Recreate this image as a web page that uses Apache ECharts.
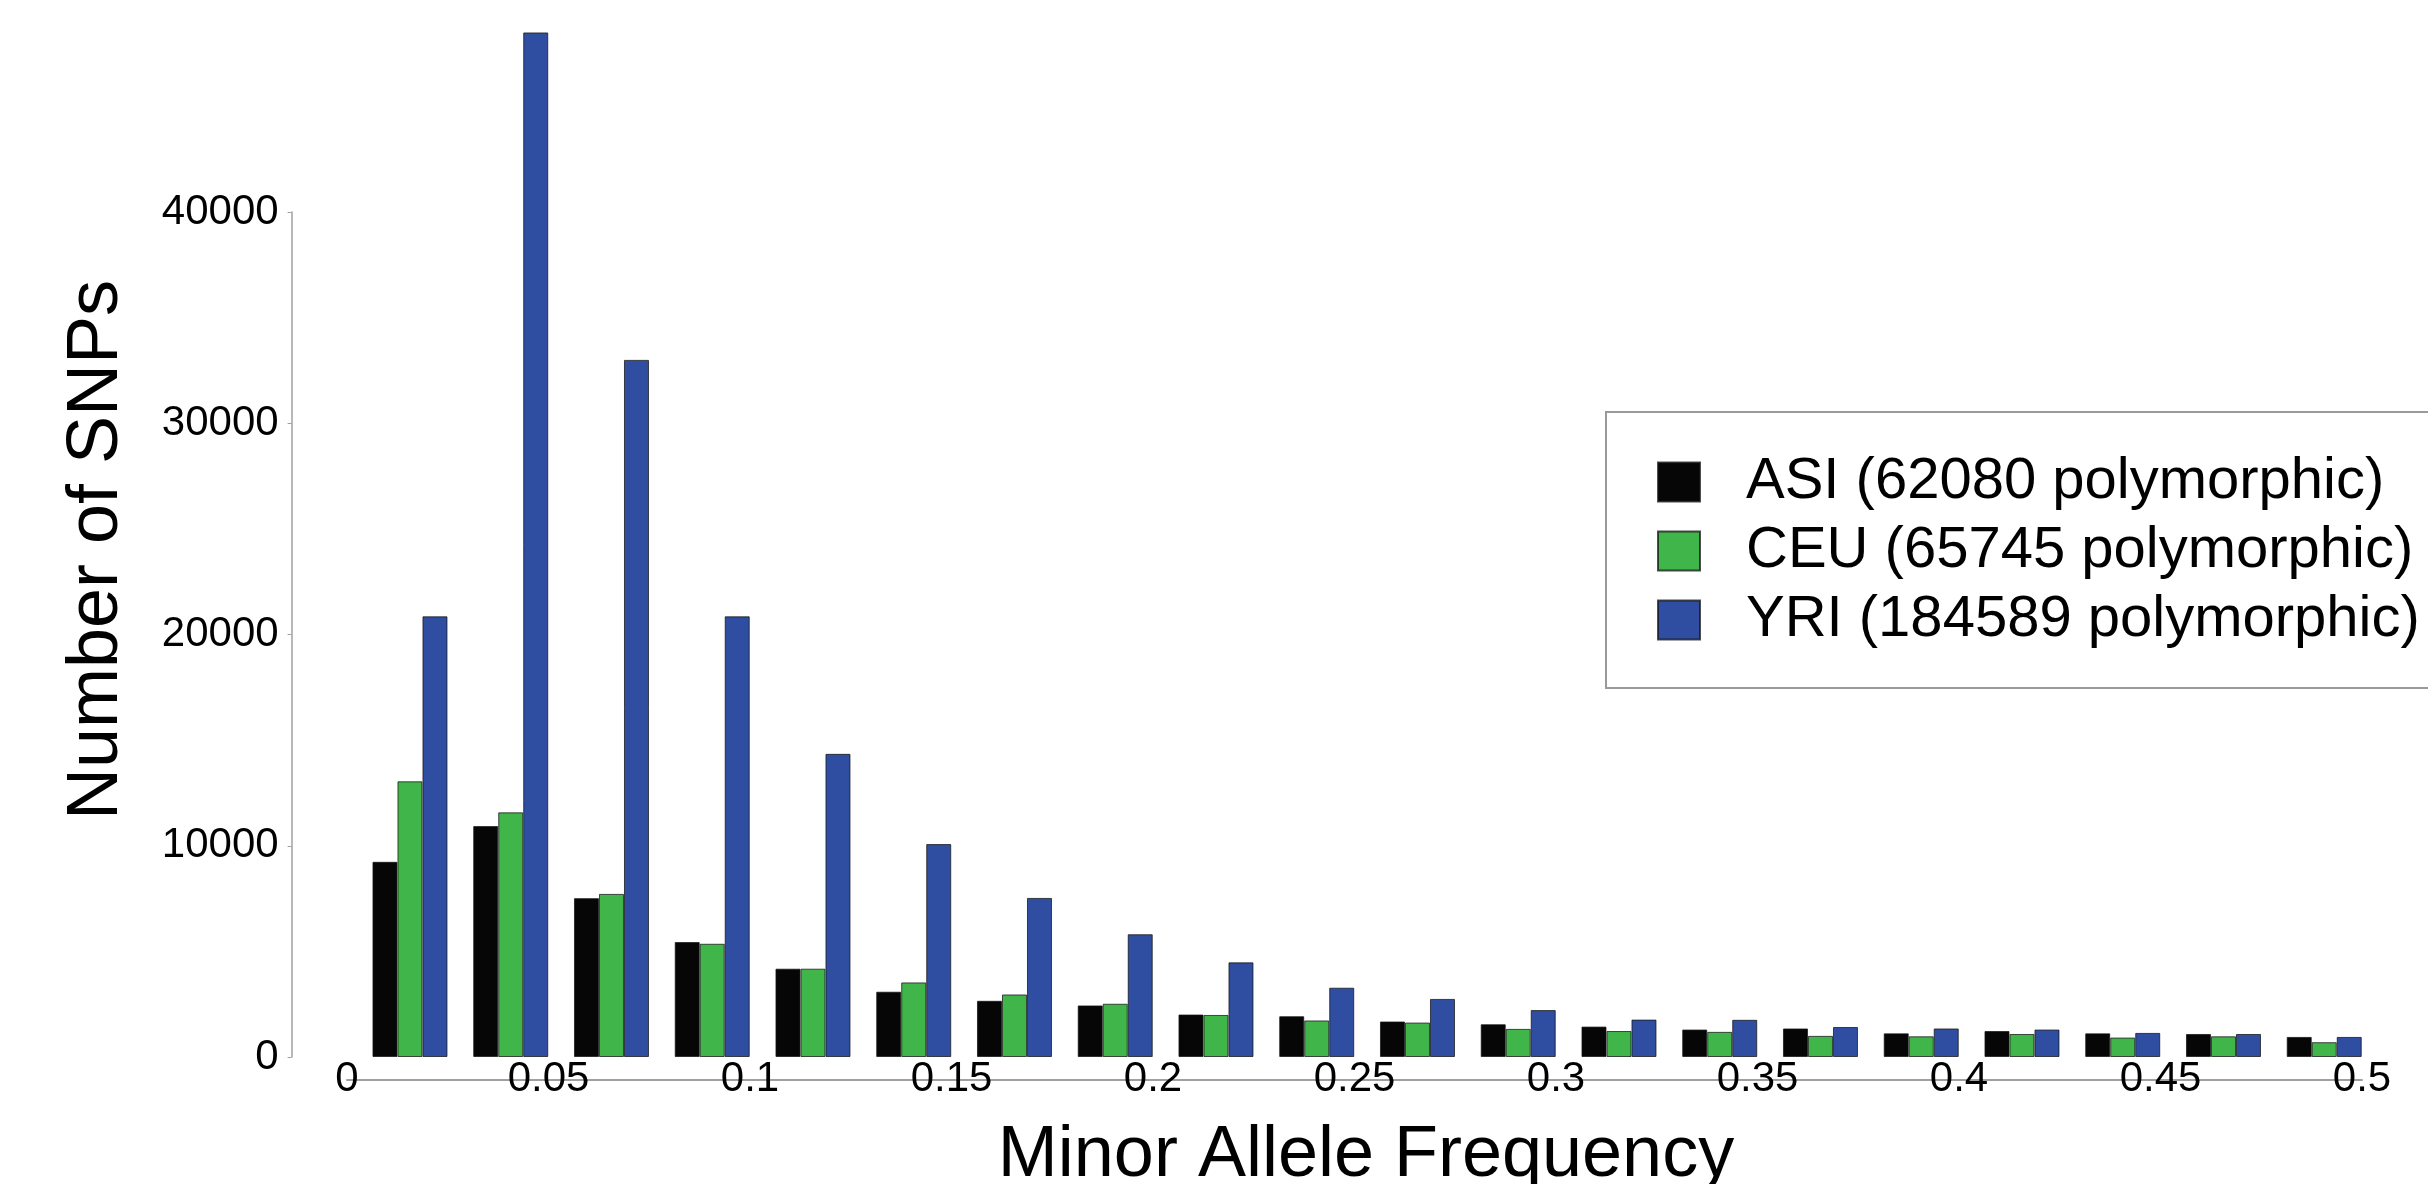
<!DOCTYPE html>
<html>
	<head>
		<meta charset="utf-8" />
		<script src="https://cdn.jsdelivr.net/npm/echarts@6/dist/echarts.min.js"></script>
		<title>MAF</title>
		<style>
			* {
			    margin: 0;
			    padding: 0;
			}
			body {
				background: #ffffff;
			}
			div#chart {
				width: 2428px;
				height: 1184px;
			}
		</style>
	</head>
	<body>
		<div id="chart"></div>
		<script>
			// bins of minor allele frequency, 0.025 wide
			var bins = ['0-0.025', '0.025-0.05', '0.05-0.075', '0.075-0.1', '0.1-0.125',
				'0.125-0.15', '0.15-0.175', '0.175-0.2', '0.2-0.225', '0.225-0.25',
				'0.25-0.275', '0.275-0.3', '0.3-0.325', '0.325-0.35', '0.35-0.375',
				'0.375-0.4', '0.4-0.425', '0.425-0.45', '0.45-0.475', '0.475-0.5'];
			var seriesNames = ['ASI (62080 polymorphic)', 'CEU (65745 polymorphic)', 'YRI (184589 polymorphic)'];
			var asi = [9240, 10930, 7520, 5440, 4180, 3090, 2660, 2440, 2010, 1930,
				1680, 1550, 1440, 1300, 1350, 1120, 1230, 1120, 1090, 950];
			var ceu = [13050, 11580, 7720, 5360, 4180, 3530, 2960, 2520, 1990, 1730,
				1630, 1330, 1230, 1190, 1000, 980, 1090, 920, 980, 700];
			var yri = [20860, 48500, 33000, 20860, 14350, 10080, 7530, 5810, 4480, 3280,
				2750, 2220, 1770, 1760, 1420, 1350, 1300, 1140, 1090, 950];
			var colors = ['#060606', '#40b549', '#2f4ea2'];
			// tick values for the frequency axis
			var freqMin = 0, freqMax = 0.5, freqStep = 0.05;
			var countMax = 40000, countStep = 10000;

			var font = "'Liberation Sans', Arial, sans-serif";
			var chart = echarts.init(document.getElementById('chart'));

			function barSeries(i, data) {
				return {
					name: seriesNames[i],
					type: 'bar',
					xAxisIndex: 0,
					yAxisIndex: 0,
					data: data,
					barWidth: 25,
					barGap: '0%',
					clip: false,
					animation: false,
					itemStyle: {
						color: colors[i],
						borderColor: 'rgba(20,20,20,0.75)',
						borderWidth: 1
					}
				};
			}

			chart.setOption({
				backgroundColor: '#ffffff',
				animation: false,
				grid: [
					{left: 359.6, width: 2015, top: 212, bottom: 127},
					{left: 347, width: 2015, top: 1000, bottom: 104}
				],
				xAxis: [
					{type: 'category', gridIndex: 0, data: bins, show: false},
					{
						type: 'value', gridIndex: 1,
						min: freqMin, max: freqMax, interval: freqStep,
						axisLine: {show: true, lineStyle: {color: '#a0a0a0', width: 2}},
						axisTick: {show: false},
						splitLine: {show: false},
						axisLabel: {
							color: '#000', fontSize: 42, fontFamily: font, margin: -22
						}
					}
				],
				yAxis: [
					{
						type: 'value', gridIndex: 0,
						min: 0, max: countMax, interval: countStep,
						offset: 68,
						axisLine: {show: true, lineStyle: {color: '#a0a0a0', width: 1.5}},
						axisTick: {show: true, length: 4, lineStyle: {color: '#a0a0a0'}},
						splitLine: {show: false},
						axisLabel: {
							color: '#000', fontSize: 42, fontFamily: font, margin: 13,
							formatter: function (v) { return String(v); }
						}
					},
					{type: 'value', gridIndex: 1, show: false}
				],
				legend: {
					orient: 'vertical',
					left: 1606,
					top: 412,
					align: 'left',
					padding: [41, 90, 39, 51],
					itemWidth: 42,
					itemHeight: 39,
					itemGap: 11,
					icon: 'rect',
					borderColor: '#9a9a9a',
					borderWidth: 2,
					backgroundColor: '#fff',
					data: seriesNames,
					textStyle: {
						color: '#000',
						fontSize: 58,
						lineHeight: 58,
						fontFamily: font,
						padding: [0, 0, 0, 41]
					}
				},
				graphic: [
					{
						type: 'text',
						x: 97, y: 550,
						rotation: Math.PI / 2,
						style: {
							text: 'Number of SNPs',
							font: '72px ' + font,
							fill: '#000',
							align: 'center',
							verticalAlign: 'middle'
						}
					},
					{
						type: 'text',
						x: 1366, y: 1156,
						style: {
							text: 'Minor Allele Frequency',
							font: '72px ' + font,
							fill: '#000',
							align: 'center',
							verticalAlign: 'middle'
						}
					},
					{
						// panel letter, cut off by the top edge
						type: 'text',
						x: 132, y: -24,
						style: {
							text: 'b',
							font: 'bold 84px ' + font,
							fill: '#000',
							align: 'center',
							verticalAlign: 'middle'
						}
					}
				],
				series: [
					barSeries(0, asi),
					barSeries(1, ceu),
					barSeries(2, yri)
				]
			});
			window.addEventListener("resize", function(){
				chart.resize();
			});
		</script>
	</body>
</html>
